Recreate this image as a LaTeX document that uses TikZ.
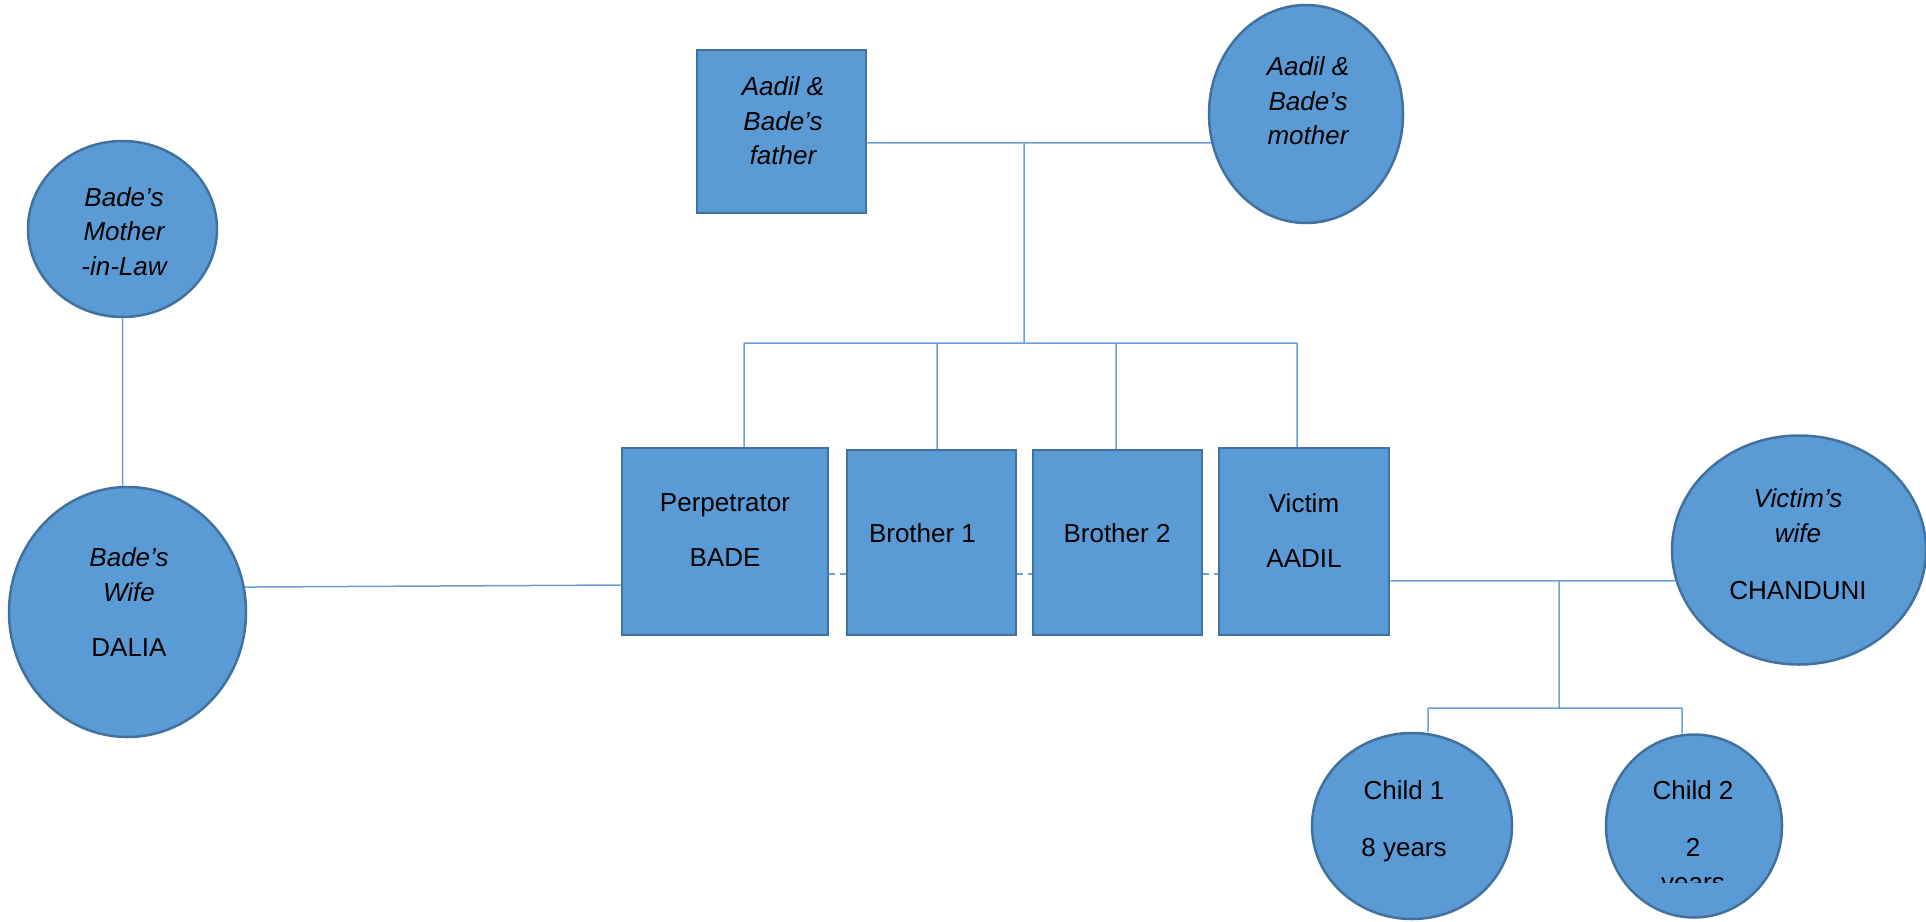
\documentclass[tikz,border=0pt]{standalone}
\usepackage{fontspec}
\setmainfont{Liberation Sans}
\usetikzlibrary{shapes.geometric}
\definecolor{kinfill}{HTML}{5B9BD5}
\definecolor{kinedge}{HTML}{41719C}
\definecolor{kinline}{HTML}{6C9FD6}

\begin{document}
\begin{tikzpicture}[x=1pt,y=-1pt,
    male/.style={rectangle,draw=kinedge,fill=kinfill,line width=2.5pt,inner sep=0pt},
    female/.style={ellipse,draw=kinedge,fill=kinfill,line width=2.5pt,inner sep=0pt},
    who/.style={align=center,inner sep=0pt,font=\fontsize{26}{35}\selectfont},
    whoit/.style={who,font=\fontsize{26}{34.5}\selectfont\itshape}]
  \tikzstyle{tie}=[draw=kinline,line width=1.5pt]
  \tikzstyle{sibdash}=[tie,dash pattern=on 6pt off 5pt]

  \useasboundingbox (0,0) rectangle (1926,921);

  \node[male,minimum width=169pt,minimum height=163pt]   (father) at (781.5,131.5) {};
  \node[female,minimum width=194pt,minimum height=218pt] (mother) at (1306,114)    {};
  \node[female,minimum width=189pt,minimum height=176pt] (mil)    at (122.5,229)   {};
  \node[female,minimum width=237pt,minimum height=250pt] (dalia)  at (127.5,612)   {};
  \node[male,minimum width=206pt,minimum height=187pt]   (perp)   at (725,541.5)   {};
  \node[male,minimum width=169pt,minimum height=185pt]   (bro1)   at (931.5,542.5) {};
  \node[male,minimum width=169pt,minimum height=185pt]   (bro2)   at (1117.5,542.5) {};
  \node[male,minimum width=170pt,minimum height=187pt]   (victim) at (1304,541.5)  {};
  \node[female,minimum width=254pt,minimum height=229pt] (chand)  at (1799,550)    {};
  \node[female,minimum width=200pt,minimum height=186pt] (child1) at (1412,826)    {};
  \node[female,minimum width=176pt,minimum height=183pt] (child2) at (1694,826)    {};

  \node[whoit] (fathertxt) at (783,121)    {Aadil \&\\Bade’s\\father};
  \node[whoit] (mothertxt) at (1308,101)   {Aadil \&\\Bade’s\\mother};
  \node[whoit] (miltxt)    at (124,231.5)  {Bade’s\\Mother\\-in-Law};
  \node[who]   (daliatxt)  at (129,602)    {\textit{Bade’s}\\\textit{Wife}\\[20pt]DALIA};
  \node[who]   (perptxt)   at (725,530.5)  {Perpetrator\\[20pt]BADE};
  \node[who]   (bro1txt)   at (922.5,533)  {Brother 1};
  \node[who]   (bro2txt)   at (1117,533)   {Brother 2};
  \node[who]   (victimtxt) at (1304,530.5) {Victim\\[20pt]AADIL};
  \node[who]   (chandtxt)  at (1798,544)   {\textit{Victim’s}\\\textit{wife}\\[22pt]CHANDUNI};
  \node[who]   (child1txt) at (1404,821.3) {Child 1\\[22pt]8 years};
  \begin{scope}
    \clip (1600,760) rectangle (1790,882);
    \node[who] (child2txt) at (1693,838.8) {Child 2\\[22pt]2\\years};
  \end{scope}

  \coordinate (parjoin) at (1024,142);
  \coordinate (sibjoin) at (1024,343);
  \coordinate (sibL)    at (744,343);
  \coordinate (sibR)    at (1297,343);
  \coordinate (kidtop)  at (1559,580);
  \coordinate (kidjoin) at (1559,708);
  \coordinate (kidL)    at (1428,708);
  \coordinate (kidR)    at (1682,708);

  \path[tie]
  (father.east |- mother.197) -- (mother.197)
  (parjoin) -- (sibjoin)
  (sibL) -- (sibR)
  (sibL) -- (sibL |- perp.north)
  (937,343) -- (937,343 |- bro1.north)
  (1116,343) -- (1116,343 |- bro2.north)
  (sibR) -- (sibR |- victim.north)
  (mil.south) -- (mil.south |- dalia.north)
  (dalia.12) -- (perp.west |- 0,585)
  (victim.east |- chand.194) -- (chand.194)
  (kidtop) -- (kidjoin)
  (kidL) -- (kidR)
  (kidL) -- (kidL |- child1.north)
  (kidR) -- (kidR |- child2.north)
  ;
  \path[sibdash]
  (perp.east |- 0,574) -- (bro1.west |- 0,574)
  (bro1.east |- 0,574) -- (bro2.west |- 0,574)
  (bro2.east |- 0,574) -- (victim.west |- 0,574)
  ;
\end{tikzpicture}
\end{document}
